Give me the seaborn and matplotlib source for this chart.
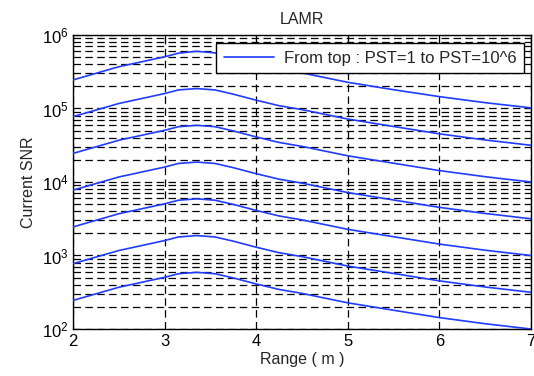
import matplotlib
matplotlib.use("Agg")
import matplotlib.pyplot as plt
import numpy as np
import pandas as pd
import seaborn as sns
from matplotlib.ticker import LogLocator, NullLocator

# range in metres
rng = [2.0, 2.5, 3.0, 3.15, 3.35, 3.55, 3.75, 4.0, 4.25, 4.5, 5.0, 5.5, 6.0, 6.5, 7.0]

# current SNR, one list per PST (top curve first)
snr_pst_1e0 = [245000, 370000, 505000, 565000, 600000, 570000, 495000, 410000, 345000, 305000, 227000, 180000, 145000, 120000, 102000]
snr_pst_1e1 = [77500, 117000, 159700, 178700, 186500, 178700, 156500, 129600, 109100, 96500, 71800, 56900, 45200, 37300, 31600]
snr_pst_1e2 = [24500, 37000, 50500, 56500, 59000, 56500, 49500, 41000, 34500, 30500, 22700, 18000, 14300, 11800, 10000]
snr_pst_1e3 = [7750, 11700, 15970, 17870, 18650, 17870, 15650, 12960, 10910, 9650, 7180, 5690, 4520, 3730, 3160]
snr_pst_1e4 = [2450, 3700, 5050, 5650, 5900, 5650, 4950, 4100, 3450, 3050, 2270, 1800, 1430, 1180, 1000]
snr_pst_1e5 = [775, 1170, 1597, 1787, 1865, 1787, 1565, 1296, 1091, 965, 718, 570, 452, 373, 316]
snr_pst_1e6 = [245, 370, 505, 565, 590, 565, 495, 410, 345, 305, 227, 180, 143, 118, 100]

pst_labels = ["1", "10", "100", "1e3", "1e4", "1e5", "1e6"]
series = [snr_pst_1e0, snr_pst_1e1, snr_pst_1e2, snr_pst_1e3,
          snr_pst_1e4, snr_pst_1e5, snr_pst_1e6]

rows = []
for lab, vals in zip(pst_labels, series):
    for r, v in zip(rng, vals):
        rows.append({"range": r, "snr": v, "pst": lab})
df = pd.DataFrame(rows)

sns.set_style("white")
plt.rcParams["font.family"] = ["Liberation Sans", "DejaVu Sans"]

blue = "#1f3cff"
grid_style = dict(color="black", linestyle=(0, (6, 3.5)), linewidth=0.9)

fig = plt.figure(figsize=(5.34, 3.76), dpi=100)
ax = fig.add_axes([0.137, 0.125, 0.857, 0.782])

sns.lineplot(data=df, x="range", y="snr", hue="pst", palette=[blue] * 7,
             linewidth=1.2, legend=False, ax=ax, sort=True, zorder=3)

ax.set_yscale("log")
ax.set_xlim(2, 7)
ax.set_ylim(1e2, 1e6)
ax.set_xticks([2, 3, 4, 5, 6, 7])
ax.xaxis.set_minor_locator(NullLocator())
ax.yaxis.set_minor_locator(LogLocator(base=10, subs=np.arange(2, 10)))

ax.grid(True, which="major", axis="x", **grid_style)
ax.grid(True, which="both", axis="y", **grid_style)
ax.set_axisbelow(True)

ax.tick_params(which="both", direction="in", top=True, right=True,
               labelsize=12, colors="black")
ax.tick_params(which="major", length=5, width=0.8)
ax.tick_params(which="minor", length=3, width=0.6)
for s in ax.spines.values():
    s.set_color("black")
    s.set_linewidth(1.0)

ax.set_title("LAMR", fontsize=11.5, pad=8)
ax.set_xlabel("Range ( m )", fontsize=11.5, labelpad=2)
ax.set_ylabel("Current SNR", fontsize=11.5, labelpad=4)

leg = ax.legend([ax.lines[0]], ["From top : PST=1 to PST=10^6"],
                loc="upper right", bbox_to_anchor=(0.985, 0.972),
                borderaxespad=0, fontsize=12, frameon=True, fancybox=False,
                framealpha=1, edgecolor="black", handlelength=3.0,
                borderpad=0.45, handletextpad=0.6)
leg.get_frame().set_linewidth(1.0)
leg.set_zorder(5)

fig.savefig("out.png", dpi=100, facecolor="white")
